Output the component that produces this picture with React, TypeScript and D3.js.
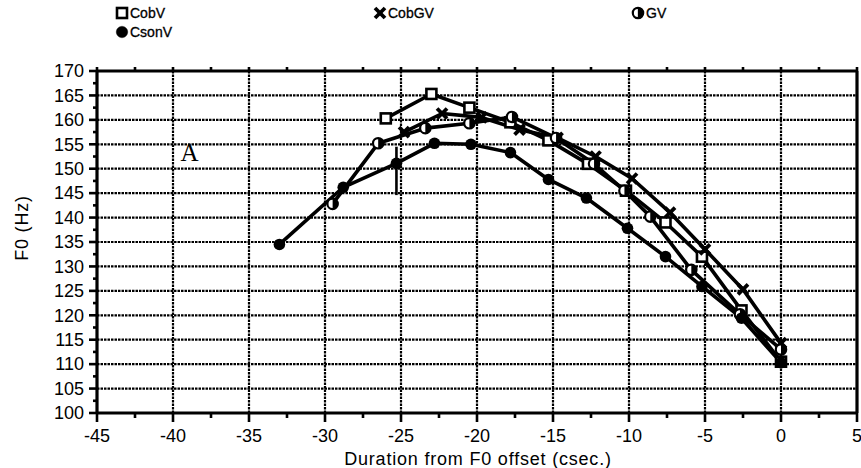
import React from 'react'
import { scaleLinear, line, range } from 'd3'

// values (x in csec, y in Hz)
const cobvX = [-26, -23, -20.5, -17.8, -15.3, -12.7, -10.2, -7.6, -5.2, -2.6, 0]
const cobvY = [160.3, 165.3, 162.5, 159.5, 155.8, 151, 145.5, 139, 132, 121, 110.5]

const cobgvX = [-24.8, -22.3, -19.7, -17.2, -14.7, -12.2, -9.8, -7.3, -5, -2.5, 0]
const cobgvY = [157.5, 161.3, 160.5, 158, 156.3, 152.5, 148, 141, 133.5, 125.3, 114.3]

const gvX = [-29.5, -26.5, -23.4, -20.5, -17.7, -14.8, -12.3, -10.3, -8.6, -5.9, -2.7, 0]
const gvY = [142.8, 155.2, 158.3, 159.3, 160.6, 156.3, 151, 145.5, 140.2, 129.3, 120.2, 113]

const csonvX = [-33, -28.8, -25.3, -22.8, -20.4, -17.8, -15.3, -12.8, -10.1, -7.6, -5.2, -2.6, 0]
const csonvY = [134.5, 146.2, 151.1, 155.2, 155, 153.3, 147.8, 144, 137.8, 132, 125.9, 119.4, 110.3]

// the single vertical bar on CsonV
const errX = [-25.3]
const errLow = [144.6]
const errHigh = [154.5]

const xTicks = [-45, -40, -35, -30, -25, -20, -15, -10, -5, 0, 5]
const yTicks = [100, 105, 110, 115, 120, 125, 130, 135, 140, 145, 150, 155, 160, 165, 170]

const width = 861
const height = 468
const margin = { top: 71, right: 4, bottom: 55, left: 97 }
const innerWidth = width - margin.left - margin.right
const innerHeight = height - margin.top - margin.bottom

const font = "'Liberation Sans', Arial, Helvetica, sans-serif"

type Kind = 'square' | 'cross' | 'half' | 'dot'

const series: { name: string; kind: Kind; xs: number[]; ys: number[] }[] = [
  { name: 'CobV', kind: 'square', xs: cobvX, ys: cobvY },
  { name: 'CobGV', kind: 'cross', xs: cobgvX, ys: cobgvY },
  { name: 'GV', kind: 'half', xs: gvX, ys: gvY },
  { name: 'CsonV', kind: 'dot', xs: csonvX, ys: csonvY },
]

function Marker({ kind, x, y }: { kind: Kind; x: number; y: number }) {
  if (kind === 'square') {
    return <rect x={x - 5} y={y - 5} width={10} height={10} fill="white" stroke="black" strokeWidth={2.6} />
  }
  if (kind === 'cross') {
    return (
      <g stroke="black" strokeWidth={3.8} strokeLinecap="butt">
        <line x1={x - 5} y1={y - 5} x2={x + 5} y2={y + 5} />
        <line x1={x - 5} y1={y + 5} x2={x + 5} y2={y - 5} />
      </g>
    )
  }
  if (kind === 'half') {
    return (
      <g>
        <circle cx={x} cy={y} r={5.2} fill="white" stroke="black" strokeWidth={2.2} />
        <path d={`M${x},${y - 5.2} A5.2,5.2 0 0 1 ${x},${y + 5.2} Z`} fill="black" />
      </g>
    )
  }
  return <circle cx={x} cy={y} r={5.8} fill="black" />
}

export default function App() {
  const xScale = scaleLinear().domain([-45, 5]).range([0, innerWidth])
  const yScale = scaleLinear().domain([100, 170]).range([innerHeight, 0])

  const path = line<[number, number]>()
    .x(d => xScale(d[0]))
    .y(d => yScale(d[1]))

  const xMinor = range(-42.5, 5, 5)
  const yMinor = range(102.5, 170, 5)

  return (
    <svg width={width} height={height} style={{ position: 'absolute', left: 0, top: 0, background: 'white' }}>
      {/* legend */}
      <g fontFamily={font} fontSize={14} fill="black" stroke="black" strokeWidth={0.3}>
        {series.map((s, i) => {
          const lx = [122, 380, 638, 122][i]
          const ly = [13, 13, 13, 32][i]
          return (
            <g key={s.name}>
              <Marker kind={s.kind} x={lx} y={ly} />
              <text x={lx + 8} y={ly + 5}>{s.name}</text>
            </g>
          )
        })}
      </g>

      <g transform={`translate(${margin.left},${margin.top})`}>
        {/* grid */}
        {xTicks.slice(1, -1).map(t => (
          <line key={'gx' + t} x1={xScale(t)} x2={xScale(t)} y1={0} y2={innerHeight}
            stroke="black" strokeWidth={2.2} strokeDasharray="2.5 1" />
        ))}
        {yTicks.slice(1, -1).map(t => (
          <line key={'gy' + t} x1={0} x2={innerWidth} y1={yScale(t)} y2={yScale(t)}
            stroke="black" strokeWidth={2.2} strokeDasharray="2.5 1" />
        ))}

        {/* frame */}
        <line x1={0} x2={innerWidth} y1={0} y2={0} stroke="black" strokeWidth={2.8} />
        <line x1={0} x2={innerWidth} y1={innerHeight} y2={innerHeight} stroke="black" strokeWidth={3.2} />
        <line x1={0} x2={0} y1={0} y2={innerHeight} stroke="black" strokeWidth={3.2} />
        <line x1={innerWidth} x2={innerWidth} y1={0} y2={innerHeight} stroke="black" strokeWidth={3.2} />

        {/* x ticks */}
        {xTicks.map(t => (
          <g key={'xt' + t} transform={`translate(${xScale(t)},0)`}>
            <line y1={innerHeight} y2={innerHeight + 9} stroke="black" strokeWidth={2.6} />
            <line y1={0} y2={-4} stroke="black" strokeWidth={2.6} />
            <text y={innerHeight + 29} textAnchor="middle" fontFamily={font} fontSize={18}>{t}</text>
          </g>
        ))}
        {xMinor.map(t => (
          <g key={'xm' + t} transform={`translate(${xScale(t)},0)`}>
            <line y1={innerHeight} y2={innerHeight + 5} stroke="black" strokeWidth={2.6} />
            <line y1={0} y2={-4} stroke="black" strokeWidth={2.6} />
          </g>
        ))}

        {/* y ticks */}
        {yTicks.map(t => (
          <g key={'yt' + t} transform={`translate(0,${yScale(t)})`}>
            <line x1={-8} x2={0} stroke="black" strokeWidth={2.6} />
            <text x={-13} dy="0.35em" textAnchor="end" fontFamily={font} fontSize={18}>{t}</text>
          </g>
        ))}
        {yMinor.map(t => (
          <line key={'ym' + t} x1={-4} x2={0} y1={yScale(t)} y2={yScale(t)} stroke="black" strokeWidth={2.6} />
        ))}

        {/* error bar */}
        {errX.map((x, i) => (
          <line key={'e' + i} x1={xScale(x)} x2={xScale(x)} y1={yScale(errLow[i])} y2={yScale(errHigh[i])}
            stroke="black" strokeWidth={2.6} />
        ))}

        {/* curves */}
        {series.map(s => (
          <path key={s.name} d={path(s.xs.map((x, i) => [x, s.ys[i]] as [number, number])) || ''}
            fill="none" stroke="black" strokeWidth={3.6} strokeLinejoin="round" />
        ))}
        {series.map(s => (
          <g key={'m' + s.name}>
            {s.xs.map((x, i) => (
              <Marker key={i} kind={s.kind} x={xScale(x)} y={yScale(s.ys[i])} />
            ))}
          </g>
        ))}

        <text x={xScale(-39.5)} y={yScale(151.5)} fontFamily="'Liberation Serif', 'Times New Roman', serif" fontSize={25}>A</text>
      </g>

      {/* axis titles */}
      <text x={478} y={465} textAnchor="middle" fontFamily={font} fontSize={18} letterSpacing={0.8}>Duration from F0 offset (csec.)</text>
      <text transform="translate(28,228) rotate(-90)" textAnchor="middle" fontFamily={font} fontSize={18} letterSpacing={0.8}>F0 (Hz)</text>
    </svg>
  )
}
